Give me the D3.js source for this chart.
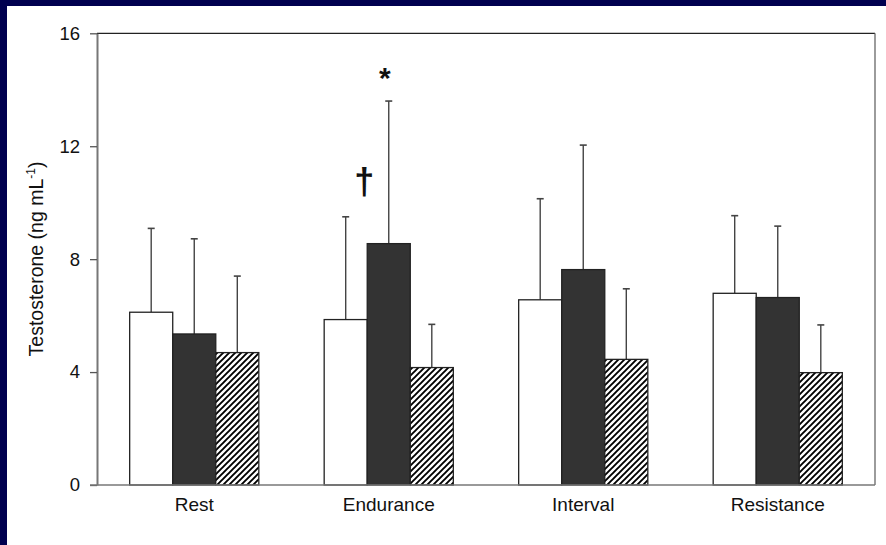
<!DOCTYPE html>
<html>
<head>
<meta charset="utf-8">
<script src="https://cdn.jsdelivr.net/npm/d3@7"></script>
<style>
  html, body { margin: 0; padding: 0; background: #00004f; }
  svg { display: block; }
</style>
</head>
<body>
<svg id="chart" width="886" height="545"></svg>
<script>
// Testosterone by exercise condition, three measurement series per condition
const categories = ["Rest", "Endurance", "Interval", "Resistance"];
const seriesKeys = ["open", "solid", "hatched"];

const openMean    = [6.12, 5.86, 6.56, 6.79];
const solidMean   = [5.35, 8.55, 7.63, 6.64];
const hatchedMean = [4.69, 4.16, 4.45, 3.98];

const openSD    = [2.97, 3.64, 3.58, 2.75];
const solidSD   = [3.37, 5.05, 4.41, 2.53];
const hatchedSD = [2.71, 1.53, 2.50, 1.69];

const yTicks = [0, 4, 8, 12, 16];
const yLabel = "Testosterone (ng mL";
const yLabelSup = "-1";

// significance markers attached to a bar
const markers = [
  { category: "Endurance", series: "solid", symbol: "*" },
  { category: "Endurance", series: "solid", symbol: "†" }
];

const means = { open: openMean, solid: solidMean, hatched: hatchedMean };
const sds = { open: openSD, solid: solidSD, hatched: hatchedSD };

const rows = [];
categories.forEach((c, i) => {
  seriesKeys.forEach(k => rows.push({ category: c, series: k, mean: means[k][i], sd: sds[k][i] }));
});

const FONT = "Arial, 'Liberation Sans', sans-serif";
const svg = d3.select("#chart");

// white slide panel
svg.append("rect").attr("x", 7).attr("y", 6).attr("width", 879).attr("height", 539).attr("fill", "#ffffff");

const plot = { left: 97, right: 875, top: 33.3, bottom: 485 };

const x0 = d3.scaleBand().domain(categories)
  .range([plot.left, plot.right])
  .paddingInner(0.336).paddingOuter(0.168);
const x1 = d3.scaleBand().domain(seriesKeys).range([0, x0.bandwidth()]);
const y = d3.scaleLinear().domain([0, 16]).range([plot.bottom, plot.top]);

const defs = svg.append("defs");
const pat = defs.append("pattern").attr("id", "hatch")
  .attr("patternUnits", "userSpaceOnUse").attr("width", 6).attr("height", 6);
pat.append("rect").attr("width", 6).attr("height", 6).attr("fill", "#fff");
pat.append("path").attr("d", "M-1,1 L1,-1 M0,6 L6,0 M5,7 L7,5")
  .attr("stroke", "#000").attr("stroke-width", 1.9);

const fills = { open: "#ffffff", solid: "#333333", hatched: "url(#hatch)" };

// frame: top and right edges
svg.append("line").attr("x1", plot.left).attr("x2", plot.right).attr("y1", plot.top).attr("y2", plot.top)
  .attr("stroke", "#222").attr("stroke-width", 1.3);
svg.append("line").attr("x1", plot.right).attr("x2", plot.right).attr("y1", plot.top).attr("y2", plot.bottom)
  .attr("stroke", "#666").attr("stroke-width", 1.3);

// error bars (upper whisker only), drawn beneath bars
const eb = svg.append("g");
rows.forEach(d => {
  const cx = x0(d.category) + x1(d.series) + x1.bandwidth() / 2;
  eb.append("line").attr("x1", cx).attr("x2", cx)
    .attr("y1", y(d.mean)).attr("y2", y(d.mean + d.sd))
    .attr("stroke", "#444").attr("stroke-width", 1.4);
  eb.append("line").attr("x1", cx - 3.5).attr("x2", cx + 3.5)
    .attr("y1", y(d.mean + d.sd)).attr("y2", y(d.mean + d.sd))
    .attr("stroke", "#444").attr("stroke-width", 1.6);
});

// bars
svg.append("g").selectAll("rect").data(rows).join("rect")
  .attr("x", d => x0(d.category) + x1(d.series))
  .attr("y", d => y(d.mean))
  .attr("width", x1.bandwidth())
  .attr("height", d => y(0) - y(d.mean))
  .attr("fill", d => fills[d.series])
  .attr("stroke", "#222")
  .attr("stroke-width", 1.3);

// y axis
const yAxis = svg.append("g").attr("transform", `translate(${plot.left},0)`)
  .call(d3.axisLeft(y).tickValues(yTicks).tickSize(7).tickPadding(10).tickSizeOuter(0));
yAxis.select(".domain").attr("stroke", "#777").attr("stroke-width", 2);
yAxis.selectAll(".tick line").attr("stroke", "#555").attr("stroke-width", 1.3);
yAxis.selectAll(".tick text").attr("font-family", FONT)
  .attr("font-size", 18.5).attr("fill", "#111");

// x axis baseline
const xAxis = svg.append("g").attr("transform", `translate(0,${plot.bottom})`)
  .call(d3.axisBottom(x0).tickSize(0).tickPadding(13).tickSizeOuter(0));
xAxis.select(".domain").attr("stroke", "#777").attr("stroke-width", 1.5)
  .attr("d", `M${plot.left - 7},0H${plot.right}`);
xAxis.selectAll(".tick text").attr("font-family", FONT)
  .attr("font-size", 19).attr("fill", "#111");

// y axis title
const yt = svg.append("text")
  .attr("transform", `translate(43,259) rotate(-90)`)
  .attr("text-anchor", "middle")
  .attr("font-family", FONT)
  .attr("font-size", 19.5).attr("fill", "#111");
yt.append("tspan").text(yLabel);
yt.append("tspan").attr("font-size", 12).attr("dy", -8).text(yLabelSup);
yt.append("tspan").attr("dy", 8).text(")");

// significance markers
markers.forEach(m => {
  const i = categories.indexOf(m.category);
  const mean = means[m.series][i], sd = sds[m.series][i];
  const bx = x0(m.category) + x1(m.series);
  const cx = bx + x1.bandwidth() / 2;
  if (m.symbol === "*") {
    svg.append("text").attr("x", cx - 4).attr("y", y(mean + sd) - 13)
      .attr("text-anchor", "middle")
      .attr("font-family", FONT)
      .attr("font-weight", "bold").attr("font-size", 30).attr("fill", "#111")
      .text(m.symbol);
  } else {
    svg.append("text").attr("x", bx - 3).attr("y", y(mean) - 50)
      .attr("text-anchor", "middle")
      .attr("font-family", FONT)
      .attr("font-weight", "bold").attr("font-size", 36).attr("fill", "#111")
      .text(m.symbol);
  }
});
</script>
</body>
</html>
